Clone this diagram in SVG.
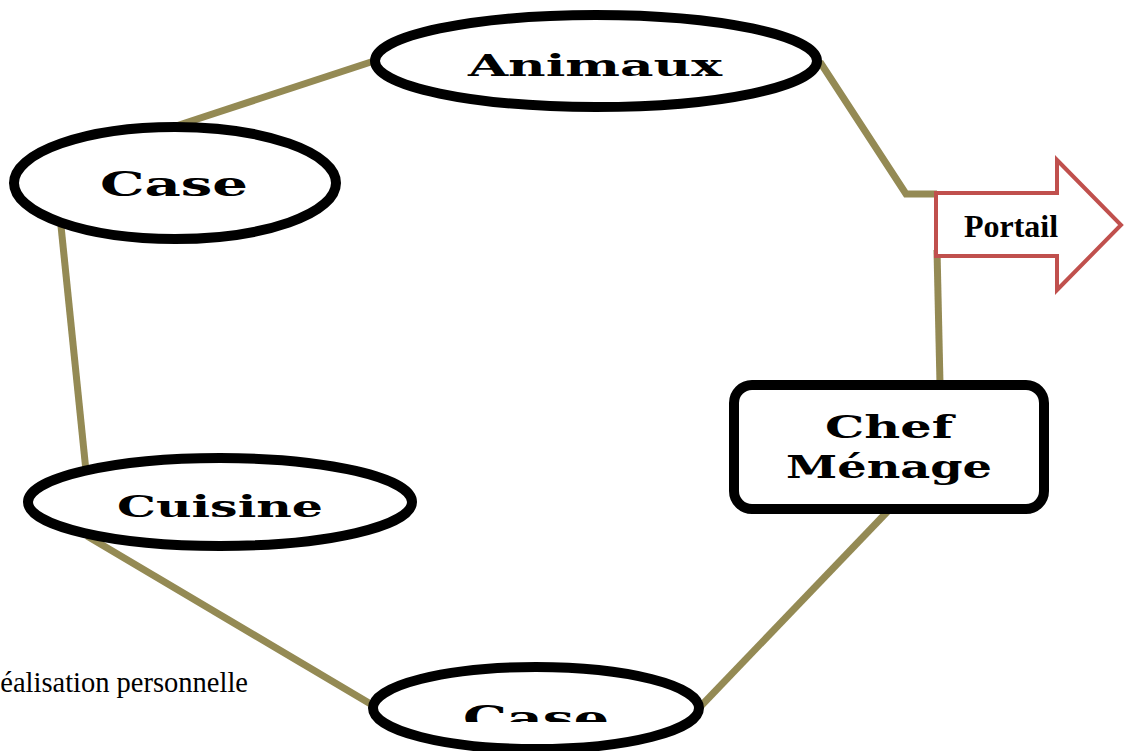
<svg xmlns="http://www.w3.org/2000/svg" width="1124" height="751" viewBox="0 0 1124 751">
  <style>
    .node { fill: #ffffff; stroke: #000000; stroke-width: 10; }
    .label { font-family: "DejaVu Serif", "Liberation Serif", serif; font-weight: bold; fill: #000000; text-anchor: middle; }
    .link { fill: none; stroke: #948A54; stroke-width: 7; stroke-linecap: butt; stroke-linejoin: miter; }
    .gate { fill: #ffffff; stroke: #C0504D; stroke-width: 4; }
    .gate-text { font-family: "Liberation Serif", "Times New Roman", serif; font-weight: bold; font-size: 32px; fill: #000000; }
    .note { font-family: "Liberation Serif", "Times New Roman", serif; font-size: 28.5px; fill: #000000; }
  </style>
  <defs>
    <clipPath id="bottom-cut">
      <rect x="0" y="0" width="1124" height="722"/>
    </clipPath>
  </defs>
  <rect width="1124" height="751" fill="#ffffff"/>

  <!-- links between the places of the compound -->
  <g id="connectors">
    <line class="link" x1="176" y1="126" x2="374" y2="61"/>
    <polyline class="link" points="820,62 906,194 937,194"/>
    <line class="link" x1="937" y1="250" x2="940" y2="384"/>
    <line class="link" x1="61" y1="226" x2="86" y2="471"/>
    <line class="link" x1="87" y1="536" x2="374" y2="706"/>
    <line class="link" x1="888" y1="511" x2="700" y2="707"/>
  </g>

  <g id="animaux">
    <ellipse class="node" cx="596" cy="61" rx="221" ry="46"/>
    <text class="label" x="595" y="76" font-size="30" textLength="254" lengthAdjust="spacingAndGlyphs">Animaux</text>
  </g>

  <g id="case-top">
    <ellipse class="node" cx="175" cy="183" rx="161" ry="56" stroke-width="11"/>
    <text class="label" x="174" y="196" font-size="34" textLength="148" lengthAdjust="spacingAndGlyphs">Case</text>
  </g>

  <g id="cuisine">
    <ellipse class="node" cx="220" cy="502" rx="192" ry="44"/>
    <text class="label" x="220" y="517" font-size="30" textLength="206" lengthAdjust="spacingAndGlyphs">Cuisine</text>
  </g>

  <g id="portail">
    <polygon class="gate" points="936,193 1057,193 1057,160 1121,225 1057,290 1057,256 936,256"/>
    <text class="gate-text" x="1011" y="237" text-anchor="middle">Portail</text>
  </g>

  <g id="chef-menage">
    <rect class="node" x="734" y="385" width="310" height="124" rx="18" ry="18" stroke-width="12"/>
    <text class="label" x="889" y="438" font-size="32" textLength="128" lengthAdjust="spacingAndGlyphs">Chef</text>
    <text class="label" x="889" y="478" font-size="32" textLength="206" lengthAdjust="spacingAndGlyphs">Ménage</text>
  </g>

  <g id="case-bottom">
    <ellipse class="node" cx="536" cy="708" rx="163" ry="41"/>
    <text class="label" x="536" y="730" font-size="34" textLength="146" lengthAdjust="spacingAndGlyphs" clip-path="url(#bottom-cut)">Case</text>
  </g>

  <text class="note" x="248" y="692" text-anchor="end">éalisation personnelle</text>
</svg>
